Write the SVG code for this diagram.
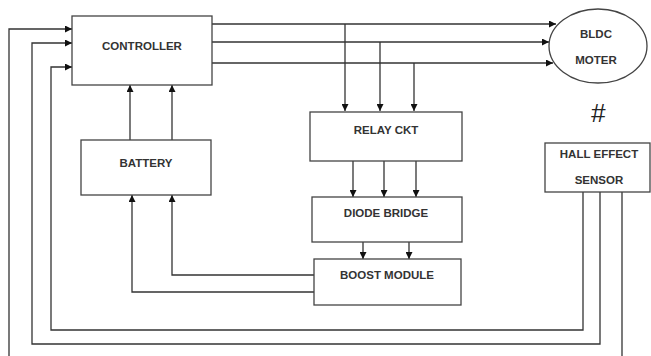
<svg xmlns="http://www.w3.org/2000/svg" width="651" height="356" viewBox="0 0 651 356">
<defs>
<style>
.box{fill:#fff;stroke:#444;stroke-width:1.3}
.t{font-family:"Liberation Sans",Arial,sans-serif;font-weight:bold;font-size:11.5px;fill:#333;text-anchor:middle}
.c{fill:none;stroke:#333;stroke-width:1.3}
</style>
<marker id="ah" viewBox="0 0 10 10" refX="10" refY="5" markerWidth="7" markerHeight="7" markerUnits="userSpaceOnUse" orient="auto">
<path d="M0,0 L10,5 L0,10 Z" fill="#111"/>
</marker>
</defs>
<rect width="651" height="356" fill="#fff"/>
<g id="connectors">
<!-- controller to motor -->
<path class="c" d="M212,24 H556" marker-end="url(#ah)"/>
<path class="c" d="M212,42 H549" marker-end="url(#ah)"/>
<path class="c" d="M212,63 H553" marker-end="url(#ah)"/>
<!-- drops to relay -->
<path class="c" d="M345,24 V111" marker-end="url(#ah)"/>
<path class="c" d="M380,42 V111" marker-end="url(#ah)"/>
<path class="c" d="M414,63 V111" marker-end="url(#ah)"/>
<!-- relay to diode -->
<path class="c" d="M353,161 V197" marker-end="url(#ah)"/>
<path class="c" d="M384,161 V197" marker-end="url(#ah)"/>
<path class="c" d="M416,161 V197" marker-end="url(#ah)"/>
<!-- diode to boost -->
<path class="c" d="M363,242 V259" marker-end="url(#ah)"/>
<path class="c" d="M409,242 V259" marker-end="url(#ah)"/>
<!-- battery to controller -->
<path class="c" d="M130,140 V85" marker-end="url(#ah)"/>
<path class="c" d="M172,140 V85" marker-end="url(#ah)"/>
<!-- boost to battery -->
<path class="c" d="M314,292 H132 V195" marker-end="url(#ah)"/>
<path class="c" d="M314,275 H172 V195" marker-end="url(#ah)"/>
<!-- hall sensor to controller -->
<path class="c" d="M583,192 V330 H51 V67 H72" marker-end="url(#ah)"/>
<path class="c" d="M600,192 V344 H32 V43 H72" marker-end="url(#ah)"/>
<path class="c" d="M622,192 V356"/>
<path class="c" d="M9,356 V29 H72" marker-end="url(#ah)"/>
</g>
<g id="controller">
<rect class="box" x="72" y="16" width="140" height="69"/>
<text class="t" x="142" y="50">CONTROLLER</text>
</g>
<g id="battery">
<rect class="box" x="81" y="140" width="130" height="55"/>
<text class="t" x="146" y="167">BATTERY</text>
</g>
<g id="motor">
<ellipse class="box" cx="598" cy="46" rx="49" ry="37"/>
<text class="t" x="596" y="38">BLDC</text>
<text class="t" x="596" y="64">MOTER</text>
</g>
<g id="relay">
<rect class="box" x="310" y="112" width="152" height="49"/>
<text class="t" x="386" y="134">RELAY CKT</text>
</g>
<g id="diode">
<rect class="box" x="312" y="197" width="150" height="45"/>
<text class="t" x="386" y="217">DIODE BRIDGE</text>
</g>
<g id="boost">
<rect class="box" x="314" y="259" width="147" height="46"/>
<text class="t" x="387" y="279">BOOST MODULE</text>
</g>
<g id="hall">
<rect class="box" x="545" y="143" width="105" height="49"/>
<text class="t" x="599" y="158">HALL EFFECT</text>
<text class="t" x="599" y="184">SENSOR</text>
</g>
<text x="598" y="122" font-family="'Liberation Sans',Arial,sans-serif" font-size="26" font-style="italic" fill="#222" text-anchor="middle">#</text>
</svg>
